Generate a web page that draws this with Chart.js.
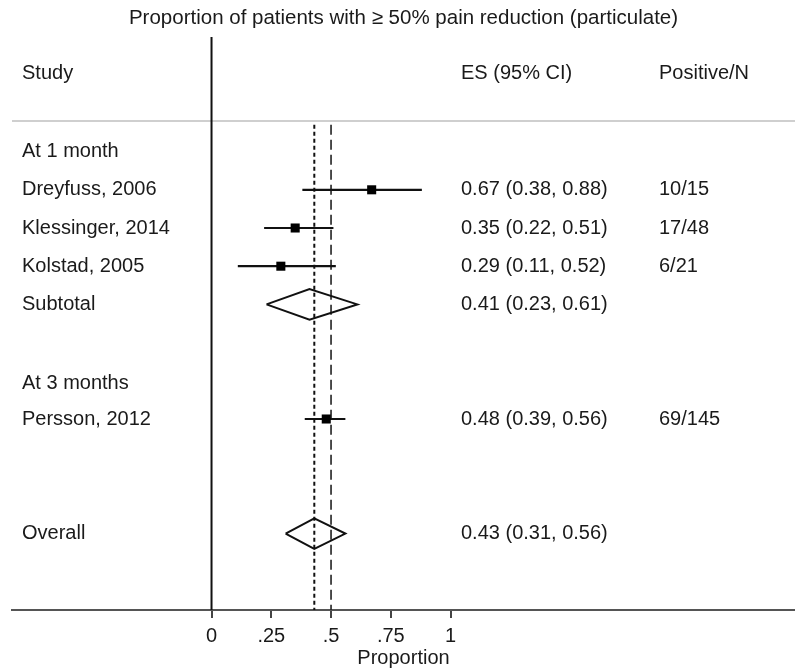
<!DOCTYPE html>
<html>
<head>
<meta charset="utf-8">
<script src="https://cdn.jsdelivr.net/npm/chart.js@4"></script>
<style>
body { margin: 0; background: #fff; }
#wrap { width: 795px; height: 671px; position: relative; }
</style>
</head>
<body>
<div id="wrap"><canvas id="forest"></canvas></div>
<script>
// study rows
var studies = ['Dreyfuss, 2006', 'Klessinger, 2014', 'Kolstad, 2005', 'Persson, 2012'];
var studyRows = [1, 2, 3, 7];
var es = [0.67, 0.35, 0.29, 0.48];
var lower = [0.38, 0.22, 0.11, 0.39];
var upper = [0.88, 0.51, 0.52, 0.56];
var positiveN = ['10/15', '17/48', '6/21', '69/145'];

// pooled estimates (diamonds)
var pooledLabels = ['Subtotal', 'Overall'];
var pooledRows = [4, 10];
var pooledEs = [0.41, 0.43];
var pooledLower = [0.23, 0.31];
var pooledUpper = [0.61, 0.56];

// group headings
var groupLabels = ['At 1 month', 'At 3 months'];
var groupRows = [0, 6.08];

// x axis
var tickValues = [0, 0.25, 0.5, 0.75, 1];
var tickLabels = ['0', '.25', '.5', '.75', '1'];
var overallEs = 0.43;
var nullValue = 0.5;

var headerRow = -2.05;
var ruleRow = -0.8;
var xMin = -0.8347, xMax = 2.441;
var yMin = -3, yMax = 12;
var fontFamily = '"Liberation Sans", Arial, sans-serif';
var textFont = '20px ' + fontFamily;
var ink = '#1a1a1a';

function fmt(v) { return v.toFixed(2); }

var datasets = [];

// reference lines
datasets.push({
    data: [{x: xMin, y: ruleRow}, {x: xMax, y: ruleRow}],
    showLine: true, borderColor: '#cfcfcf', borderWidth: 2, pointRadius: 0, order: 10
});
datasets.push({
    data: [{x: 0, y: yMin}, {x: 0, y: yMax}],
    showLine: true, borderColor: '#111', borderWidth: 2, pointRadius: 0, order: 9
});
datasets.push({
    data: [{x: overallEs, y: -0.7}, {x: overallEs, y: yMax}],
    showLine: true, borderColor: '#111', borderWidth: 2, borderDash: [4, 3], pointRadius: 0, order: 8
});
datasets.push({
    data: [{x: nullValue, y: -0.7}, {x: nullValue, y: yMax}],
    showLine: true, borderColor: '#222', borderWidth: 1.6, borderDash: [10, 5], pointRadius: 0, order: 8
});

// confidence intervals
studies.forEach(function(s, i) {
    datasets.push({
        data: [{x: lower[i], y: studyRows[i]}, {x: upper[i], y: studyRows[i]}],
        showLine: true, borderColor: '#111', borderWidth: 2.2, pointRadius: 0, order: 5
    });
});

// point estimates
datasets.push({
    data: studies.map(function(s, i) { return {x: es[i], y: studyRows[i]}; }),
    pointStyle: 'rect', pointRadius: 6.4, backgroundColor: '#000', borderWidth: 0, order: 1
});

// diamonds
pooledLabels.forEach(function(s, i) {
    var r = pooledRows[i], h = 0.4;
    datasets.push({
        data: [
            {x: pooledLower[i], y: r}, {x: pooledEs[i], y: r - h},
            {x: pooledUpper[i], y: r}, {x: pooledEs[i], y: r + h},
            {x: pooledLower[i], y: r}
        ],
        showLine: true, borderColor: '#111', borderWidth: 2, pointRadius: 0, order: 2
    });
});

var textPlugin = {
    id: 'forestText',
    afterDatasetsDraw: function(chart) {
        var ctx = chart.ctx;
        var ys = chart.scales.y;
        ctx.save();
        ctx.font = textFont;
        ctx.fillStyle = ink;
        ctx.textBaseline = 'middle';
        ctx.textAlign = 'left';
        var colStudy = 22, colEs = 461, colPos = 659;

        ctx.fillText('Study', colStudy, ys.getPixelForValue(headerRow));
        ctx.fillText('ES (95% CI)', colEs, ys.getPixelForValue(headerRow));
        ctx.fillText('Positive/N', colPos, ys.getPixelForValue(headerRow));

        groupLabels.forEach(function(g, i) {
            ctx.fillText(g, colStudy, ys.getPixelForValue(groupRows[i]));
        });
        studies.forEach(function(s, i) {
            var y = ys.getPixelForValue(studyRows[i]);
            ctx.fillText(s, colStudy, y);
            ctx.fillText(fmt(es[i]) + ' (' + fmt(lower[i]) + ', ' + fmt(upper[i]) + ')', colEs, y);
            ctx.fillText(positiveN[i], colPos, y);
        });
        pooledLabels.forEach(function(s, i) {
            var y = ys.getPixelForValue(pooledRows[i]);
            ctx.fillText(s, colStudy, y);
            ctx.fillText(fmt(pooledEs[i]) + ' (' + fmt(pooledLower[i]) + ', ' + fmt(pooledUpper[i]) + ')', colEs, y);
        });
        ctx.restore();
    }
};

var ctx = document.getElementById('forest').getContext('2d');
var forest = new Chart(ctx, {
    type: 'scatter',
    data: { datasets: datasets },
    plugins: [textPlugin],
    options: {
        responsive: true,
        maintainAspectRatio: false,
        animation: false,
        layout: { autoPadding: false, padding: { left: 12, right: 0, top: 0, bottom: 0 } },
        plugins: {
            legend: { display: false },
            tooltip: { enabled: false },
            title: {
                display: true,
                text: 'Proportion of patients with \u2265 50% pain reduction (particulate)',
                color: ink,
                font: { family: fontFamily, size: 20.5, weight: 'normal' },
                padding: { top: 6, bottom: 6.4 }
            }
        },
        scales: {
            x: {
                type: 'linear',
                min: xMin,
                max: xMax,
                afterBuildTicks: function(scale) {
                    scale.ticks = tickValues.map(function(v) { return {value: v}; });
                },
                afterFit: function(scale) { scale.height = 61; },
                ticks: {
                    autoSkip: false,
                    maxRotation: 0,
                    padding: 6,
                    color: ink,
                    font: { family: fontFamily, size: 20 },
                    callback: function(value) {
                        var k = tickValues.indexOf(value);
                        return k >= 0 ? tickLabels[k] : '';
                    }
                },
                grid: {
                    display: true,
                    drawOnChartArea: false,
                    drawTicks: true,
                    tickLength: 8,
                    color: '#444',
                    lineWidth: 2
                },
                border: { display: true, color: '#555', width: 2 },
                title: {
                    display: true,
                    text: 'Proportion',
                    color: ink,
                    font: { family: fontFamily, size: 20 },
                    padding: { top: 0, bottom: 1 }
                }
            },
            y: {
                type: 'linear',
                display: false,
                reverse: true,
                min: yMin,
                max: yMax
            }
        }
    }
});
</script>
</body>
</html>
